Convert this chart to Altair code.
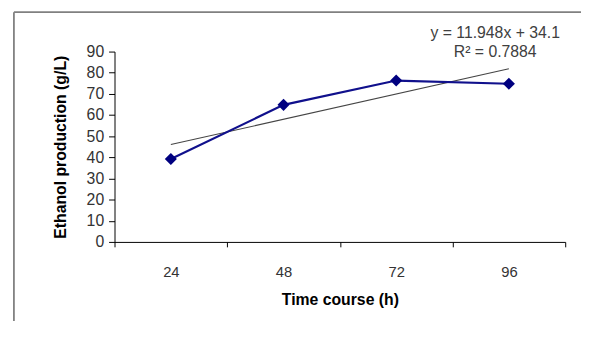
import altair as alt
import pandas as pd

# ---- data ----
categories = ["24", "48", "72", "96"]          # time course (h)
ethanol = [39.2, 64.8, 76.3, 74.8]             # ethanol production (g/L)
slope = 11.948                                  # trendline shown on chart
intercept = 34.1
eq_lines = ["y = 11.948x  + 34.1", "R² = 0.7884"]

FONT = "Liberation Sans"

pos = [i + 0.5 for i in range(len(categories))]
df = pd.DataFrame({"pos": pos, "cat": categories, "ethanol": ethanol})
trend = pd.DataFrame({
    "pos": [pos[0], pos[-1]],
    "ethanol": [slope * 1 + intercept, slope * len(categories) + intercept],
})
one = pd.DataFrame({"k": [0]})

cat_js = "[" + ",".join("'%s'" % c for c in categories) + "]"

x_scale = alt.Scale(domain=[0, len(categories)], nice=False, zero=False)
y_scale = alt.Scale(domain=[0, 90], nice=False)

x_axis = alt.Axis(
    title="Time course (h)",
    values=[i / 2 for i in range(2 * len(categories) + 1)],
    labelExpr=f"datum.value % 1 == 0.5 ? {cat_js}[floor(datum.value)] : ''",
    tickOpacity={"condition": {"test": "datum.value % 1 == 0.5", "value": 0}, "value": 1},
    tickSize=5,
    labelPadding=18,
    labelOverlap=False,
    labelFlush=False,
    labelBound=False,
    labelFontSize=15,
    titlePadding=12,
    grid=False,
)
y_axis = alt.Axis(
    title="Ethanol production (g/L)",
    values=list(range(0, 91, 10)),
    tickSize=6,
    labelPadding=5,
    labelFontSize=16,
    titlePadding=18,
    grid=False,
)

x_enc = alt.X("pos:Q", scale=x_scale, axis=x_axis)
y_enc = alt.Y("ethanol:Q", scale=y_scale, axis=y_axis)

trend_line = alt.Chart(trend).mark_line(color="#454545", strokeWidth=1.1).encode(x=x_enc, y=y_enc)
line = alt.Chart(df).mark_line(color="#10108c", strokeWidth=2.2).encode(x=x_enc, y=y_enc)
pts = alt.Chart(df).mark_point(shape="diamond", filled=True, size=150, color="#000080", opacity=1).encode(
    x=x_enc, y=y_enc
)
eq1 = alt.Chart(one).mark_text(
    text=eq_lines[0], font=FONT, fontSize=16, fontWeight="normal", color="#404040",
    align="center", baseline="middle"
).encode(x=alt.value(386), y=alt.value(-19))
eq2 = alt.Chart(one).mark_text(
    text=eq_lines[1], font=FONT, fontSize=16, fontWeight="normal", color="#404040",
    align="center", baseline="middle"
).encode(x=alt.value(386), y=alt.value(0))
frame_top = alt.Chart(one).mark_rule(color="#808080", strokeWidth=1.8).encode(
    x=alt.value(-102), x2=alt.value(480), y=alt.value(-40)
)
frame_left = alt.Chart(one).mark_rule(color="#808080", strokeWidth=1.8).encode(
    x=alt.value(-102), y=alt.value(-40), y2=alt.value(300)
)

chart = alt.layer(trend_line, line, pts, eq1, eq2, frame_top, frame_left).properties(
    width=457, height=193,
    padding={"left": 108, "top": 42, "right": 16, "bottom": 78},
    autosize=alt.AutoSizeParams(type="none"),
).configure_view(stroke=None).configure_axis(
    domainColor="#000000", tickColor="#000000", labelColor="#333333",
    titleColor="#000000", labelFont=FONT, titleFont=FONT, grid=False,
    titleFontSize=16, titleFontWeight="bold", domainWidth=1, tickWidth=1,
)

chart.save("out.html", embed_options={"renderer": "svg", "actions": False})
